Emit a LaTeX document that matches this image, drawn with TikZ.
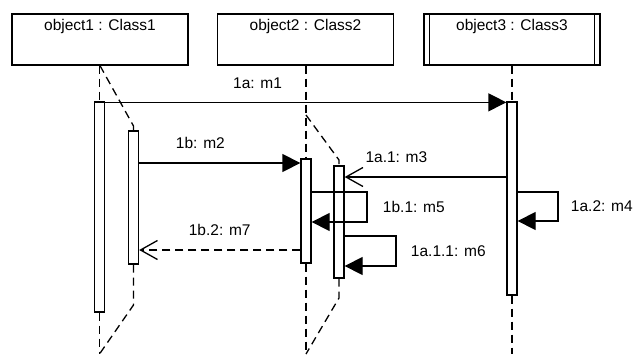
\documentclass[tikz,border=0pt]{standalone}
\usepackage{fontspec}
\setmainfont{Liberation Sans}
\usetikzlibrary{positioning, arrows.meta}

\begin{document}
\begin{tikzpicture}[x=1pt, y=-1pt, line width=1.3pt,
        every node/.style={font=\fontsize{15.5}{18}\selectfont},
        objbox/.style={draw, minimum width=176pt, minimum height=51pt, text height=12pt, text depth=31pt, inner ysep=4pt, inner xsep=0pt},
        actbar/.style={draw, fill=white, minimum width=10pt, inner sep=0pt},
        life/.style={dash pattern=on 8pt off 5pt},
        msg/.style={-{Triangle[length=18pt,width=18pt]}},
        reply/.style={-{Straight Barb[length=17pt,width=19pt]}}]
        \useasboundingbox (0,0) rectangle (635,354);

        \node[objbox] (obj1) at (100,39.5) {object1 : Class1};
        \node[objbox] (obj2) at (305.5,39.5) {object2 : Class2};
        \node[objbox] (obj3) at (512,39.5) {object3 : Class3};
        \draw ([xshift=6pt]obj3.north west) -- ([xshift=6pt]obj3.south west);
        \draw ([xshift=-6pt]obj3.north east) -- ([xshift=-6pt]obj3.south east);

        \node[actbar, minimum height=210pt] (act1) at (99.5,207) {};
        \node[actbar, minimum height=133pt] (act1b) at (133.5,197.5) {};
        \node[actbar, minimum height=104pt] (act2) at (306,211) {};
        \node[actbar, minimum height=112pt] (act2b) at (339,222) {};
        \node[actbar, minimum height=193pt] (act3) at (512,198.5) {};

        % lifelines
        \draw[life] (act1.north |- obj1.south) -- (act1.north);
        \draw[life] (act1.south) -- (act1.south |- 0,354);
        \draw[life] (obj1.south) -- (act1b.north |- 0,126) -- (act1b.north);
        \draw[life] (act1b.south) -- (act1b.south |- 0,305) -- (act1.south |- 0,354);

        \draw[life] (act2.north |- obj2.south) -- (act2.north);
        \draw[life] (act2.south) -- (act2.south |- 0,354);
        \draw[life] (act2.north |- 0,115) -- (act2b.north |- 0,160) -- (act2b.north);
        \draw[life] (act2b.south) -- (act2b.south |- 0,298) -- (act2.south |- 0,354);

        \draw[life] (act3.north |- obj3.south) -- (act3.north);
        \draw[life] (act3.south) -- (act3.south |- 0,354);

        % messages
        \draw[msg] ([yshift=-1pt]act1.north east) -- node[pos=.38, above=10pt] (l1) {1a: m1} ([yshift=-1pt]act3.north west);
        \draw[msg] (act1b.east |- 0,163) -- node[pos=.38, above=10pt] (l2) {1b: m2} (act2.west |- 0,163);
        \draw[reply] (act3.west |- 0,177) -- node[pos=.68, above=10pt] (l3) {1a.1: m3} (act2b.east |- 0,177);
        \draw[msg] (act3.east |- 0,192) -- (558,192) |- node[pos=.25, right=9pt] (l4) {1a.2: m4} (act3.east |- 0,221);
        \draw[msg] (act2.east |- 0,192) -- (367,192) |- node[pos=.25, right=12pt] (l5) {1b.1: m5} (act2.east |- 0,222);
        \draw[msg] (act2b.east |- 0,236) -- (396,236) |- node[pos=.25, right=11pt] (l6) {1a.1.1: m6} (act2b.east |- 0,266);
        \draw[reply, life] (act2.west |- 0,250) -- node[pos=.5, above=10pt] (l7) {1b.2: m7} (act1b.east |- 0,250);
    \end{tikzpicture}
\end{document}
